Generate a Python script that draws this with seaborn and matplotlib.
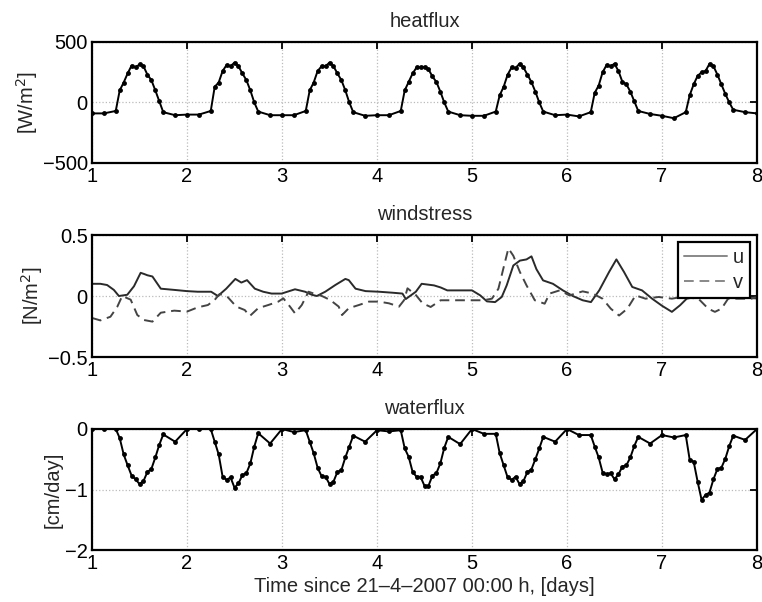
import matplotlib
matplotlib.use("Agg")
import matplotlib.pyplot as plt
import seaborn as sns
import pandas as pd
import numpy as np

# sampling hours within each day (3-hourly at night, hourly in daytime)
day_hours = [0, 3, 6, 7, 8, 9, 10, 11, 12, 13, 14, 15, 16, 17, 18, 21]
days = [1, 2, 3, 4, 5, 6, 7]

# heatflux [W/m2], one row per day
heat_day1 = [-90, -90, -70, 100, 165, 240, 305, 290, 315, 300, 230, 185, 100, 10, -80, -105]
heat_day2 = [-100, -100, -70, 130, 165, 260, 310, 300, 330, 300, 240, 185, 100, 0, -75, -105]
heat_day3 = [-105, -105, -70, 100, 165, 260, 300, 300, 330, 300, 240, 185, 100, 0, -80, -110]
heat_day4 = [-105, -105, -70, 100, 170, 240, 290, 290, 295, 275, 215, 170, 90, 0, -75, -105]
heat_day5 = [-110, -110, -75, 60, 130, 230, 290, 285, 320, 290, 230, 170, 90, 0, -75, -105]
heat_day6 = [-100, -115, -80, 80, 140, 250, 310, 300, 320, 260, 170, 150, 90, 10, -70, -95]
heat_day7 = [-110, -130, -80, 60, 150, 220, 250, 260, 320, 300, 230, 150, 70, 0, -60, -80]
heat_end = -90

# waterflux [cm/day]
water_day1 = [0, 0, 0, -0.15, -0.42, -0.60, -0.77, -0.83, -0.91, -0.86, -0.71, -0.66, -0.47, -0.26, -0.09, -0.21]
water_day2 = [0, 0, 0, -0.21, -0.42, -0.79, -0.84, -0.80, -0.97, -0.90, -0.76, -0.73, -0.57, -0.29, -0.07, -0.24]
water_day3 = [0, -0.05, -0.02, -0.21, -0.40, -0.64, -0.78, -0.79, -0.91, -0.87, -0.71, -0.68, -0.47, -0.29, -0.11, -0.21]
water_day4 = [-0.02, -0.04, -0.02, -0.32, -0.46, -0.71, -0.79, -0.79, -0.94, -0.94, -0.77, -0.73, -0.57, -0.31, -0.13, -0.25]
water_day5 = [0, -0.08, -0.08, -0.40, -0.60, -0.80, -0.84, -0.79, -0.91, -0.86, -0.71, -0.67, -0.50, -0.32, -0.13, -0.21]
water_day6 = [0, -0.10, -0.10, -0.29, -0.47, -0.72, -0.75, -0.73, -0.83, -0.75, -0.62, -0.60, -0.47, -0.28, -0.13, -0.24]
water_day7 = [-0.10, -0.14, -0.10, -0.51, -0.54, -0.87, -1.17, -1.09, -1.05, -0.83, -0.66, -0.64, -0.49, -0.28, -0.11, -0.18]
water_end = 0.0

u_time = [1.0, 1.088, 1.159, 1.23, 1.283, 1.371, 1.442, 1.512, 1.55, 1.583, 1.636, 1.724, 1.866,
          2.0, 2.113, 2.254, 2.325, 2.413, 2.509, 2.572, 2.632, 2.714, 2.802, 2.89, 2.996,
          3.137, 3.243, 3.314, 3.367, 3.455, 3.561, 3.667, 3.703, 3.774, 3.88, 4.02, 4.162,
          4.268, 4.303, 4.409, 4.47, 4.60, 4.67, 4.74, 4.88, 5.0, 5.087, 5.157, 5.243, 5.313,
          5.365, 5.435, 5.504, 5.574, 5.626, 5.678, 5.748, 5.852, 5.957, 6.061, 6.165, 6.252,
          6.339, 6.443, 6.52, 6.60, 6.687, 6.79, 6.896, 7.0, 7.104, 7.19, 7.26, 7.4, 7.6, 7.8, 8.0]
u_stress = [0.10, 0.10, 0.09, 0.05, 0.0, 0.01, 0.08, 0.19, 0.18, 0.17, 0.16, 0.06, 0.05,
            0.04, 0.035, 0.035, 0.0, 0.06, 0.14, 0.11, 0.13, 0.06, 0.035, 0.02, 0.02,
            0.055, 0.035, 0.01, 0.0, 0.035, 0.09, 0.14, 0.13, 0.06, 0.04, 0.035, 0.027,
            0.02, -0.025, 0.035, 0.10, 0.087, 0.07, 0.046, 0.046, 0.046, 0.005, -0.044, -0.05, -0.008,
            0.087, 0.25, 0.29, 0.30, 0.325, 0.22, 0.128, 0.10, 0.046, 0.0, -0.035, -0.05,
            0.046, 0.197, 0.30, 0.197, 0.074, 0.046, -0.022, -0.08, -0.13, -0.076, -0.022, 0.0, -0.01, -0.01, -0.02]

v_time = [1.0, 1.088, 1.194, 1.265, 1.318, 1.407, 1.477, 1.548, 1.636, 1.724, 1.866, 2.0, 2.113,
          2.22, 2.29, 2.343, 2.431, 2.519, 2.608, 2.661, 2.749, 2.855, 2.961, 3.014, 3.084, 3.137,
          3.208, 3.279, 3.349, 3.42, 3.508, 3.597, 3.632, 3.703, 3.809, 3.915, 4.02, 4.126, 4.232,
          4.286, 4.321, 4.409, 4.48, 4.565, 4.67, 4.81, 5.0, 5.12, 5.21, 5.278, 5.33, 5.383, 5.435,
          5.504, 5.574, 5.661, 5.765, 5.817, 5.922, 6.026, 6.165, 6.27, 6.374, 6.461, 6.548, 6.635,
          6.722, 6.826, 6.965, 7.104, 7.209, 7.383, 7.487, 7.557, 7.626, 7.696, 7.8, 7.94, 8.0]
v_stress = [-0.18, -0.20, -0.17, -0.09, 0.0, -0.03, -0.156, -0.197, -0.21, -0.137, -0.12, -0.128, -0.093,
            -0.074, -0.033, 0.016, -0.011, -0.087, -0.115, -0.164, -0.10, -0.074, -0.046, -0.019, -0.087, -0.142,
            -0.074, 0.035, 0.016, 0.0, -0.033, -0.087, -0.156, -0.10, -0.074, -0.046, -0.046, -0.06, -0.087,
            -0.033, 0.063, 0.008, -0.06, -0.09, -0.035, -0.035, -0.035, -0.035, -0.022, 0.06, 0.225, 0.39, 0.33,
            0.197, 0.087, -0.035, -0.063, 0.02, 0.046, 0.005, 0.038, 0.02, -0.022, -0.104, -0.16, -0.104,
            0.005, -0.022, -0.008, -0.022, -0.008, -0.022, -0.104, -0.13, -0.104, -0.022, -0.022, -0.022, -0.008]

xlabel = "Time since 21\u20134\u20132007 00:00 h, [days]"

# build the daily-sampled series
t_daily = [d + h / 24.0 for d in days for h in day_hours] + [8.0]
heat = heat_day1 + heat_day2 + heat_day3 + heat_day4 + heat_day5 + heat_day6 + heat_day7 + [heat_end]
water = water_day1 + water_day2 + water_day3 + water_day4 + water_day5 + water_day6 + water_day7 + [water_end]
df_flux = pd.DataFrame({"t": t_daily, "heat": heat, "water": water})
df_u = pd.DataFrame({"t": u_time, "val": u_stress})
df_v = pd.DataFrame({"t": v_time, "val": v_stress})

sns.set_style("white")
plt.rcParams["font.family"] = ["Liberation Sans", "DejaVu Sans"]
fs = 14.5
plt.rcParams["font.size"] = fs

fig = plt.figure(figsize=(7.62, 6.02), dpi=100)
left, width = 92 / 762, 665 / 762
ax1 = fig.add_axes([left, 1 - 163 / 602, width, 121 / 602])
ax2 = fig.add_axes([left, 1 - 357 / 602, width, 122 / 602])
ax3 = fig.add_axes([left, 1 - 550 / 602, width, 121 / 602])

sns.lineplot(data=df_flux, x="t", y="heat", ax=ax1, color="black", lw=1.4,
             marker="o", markersize=3.5, markeredgewidth=0)
sns.lineplot(data=df_u, x="t", y="val", ax=ax2, color="#2a2a2a", lw=1.4, label="u")
sns.lineplot(data=df_v, x="t", y="val", ax=ax2, color="#444444", lw=1.4,
             linestyle=(0, (5, 3)), label="v")
sns.lineplot(data=df_flux, x="t", y="water", ax=ax3, color="black", lw=1.4,
             marker="o", markersize=3.5, markeredgewidth=0)

panels = [
    (ax1, "heatflux", "[W/m$^2$]", (-500, 500), [-500, 0, 500]),
    (ax2, "windstress", "[N/m$^2$]", (-0.5, 0.5), [-0.5, 0, 0.5]),
    (ax3, "waterflux", "[cm/day]", (-2, 0), [-2, -1, 0]),
]
for ax, title, ylab, ylim, yticks in panels:
    ax.set_xlim(1, 8)
    ax.set_ylim(*ylim)
    ax.set_xticks(range(1, 9))
    ax.set_yticks(yticks)
    ax.set_yticklabels([f"{y:g}".replace("-", "\u2212") for y in yticks])
    ax.set_title(title, fontsize=fs, pad=11)
    ax.set_ylabel(ylab, fontsize=fs, labelpad=2)
    ax.set_xlabel("")
    ax.grid(True, color="#bbbbbb", linestyle=":", linewidth=0.9)
    ax.tick_params(direction="in", length=5, width=1.3, top=True, right=True,
                   labelsize=fs, pad=3, colors="black")
    for s in ax.spines.values():
        s.set_linewidth(1.6)
        s.set_color("black")
    ax.set_axisbelow(True)

leg = ax2.legend(loc="upper right", fontsize=fs, frameon=True, fancybox=False,
                 handlelength=2.1, borderaxespad=0.35, borderpad=0.3,
                 labelspacing=0.3, handletextpad=0.3)
leg.get_frame().set_edgecolor("black")
leg.get_frame().set_linewidth(1.6)
leg.get_frame().set_alpha(1)
for line in leg.get_lines():
    line.set_color("#888888")

ax3.set_xlabel(xlabel, fontsize=fs, labelpad=3)

fig.savefig("out.png", dpi=100)
